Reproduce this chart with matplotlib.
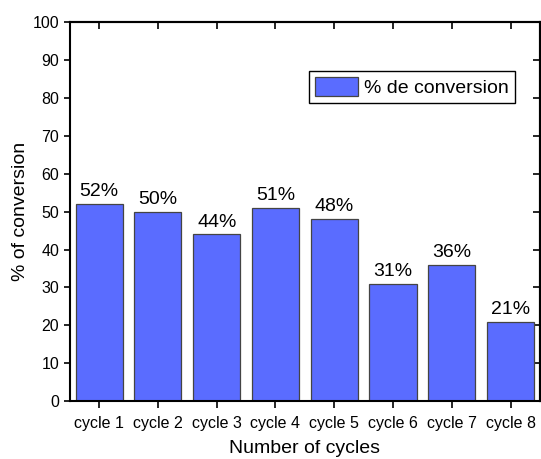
import matplotlib
matplotlib.use("Agg")
import matplotlib.pyplot as plt
import numpy as np

plt.rcParams['font.family'] = ['Liberation Sans', 'DejaVu Sans']

cycles = ['cycle 1', 'cycle 2', 'cycle 3', 'cycle 4',
          'cycle 5', 'cycle 6', 'cycle 7', 'cycle 8']
conversion = [52, 50, 44, 51, 48, 31, 36, 21]

fig = plt.figure(figsize=(5.41, 4.59), dpi=100)
ax = fig.add_axes([0.129, 0.126, 0.869, 0.826])

x = np.arange(len(cycles))
ax.bar(x, conversion, width=0.8, color='#5a6cff', edgecolor='#444444',
       linewidth=0.9, label='% de conversion')
for xi, v in zip(x, conversion):
    ax.text(xi, v + 1.0, f'{v}%', ha='center', va='bottom', fontsize=14)

ax.set_xlim(-0.5, 7.5)
ax.set_ylim(0, 100)
ax.set_yticks(range(0, 101, 10))
ax.set_xticks(x)
ax.set_xticklabels(cycles, fontsize=11.5)
ax.tick_params(axis='y', labelsize=11.5, direction='out', length=4, width=1.2)
ax.tick_params(axis='x', direction='out', length=5, width=1.2, pad=6)

# mirrored ticks on top/right point inward
sec_x = ax.secondary_xaxis('top')
sec_x.set_xticks(x)
sec_x.tick_params(direction='in', length=5, width=1.2, labeltop=False)
sec_y = ax.secondary_yaxis('right')
sec_y.set_yticks(range(0, 101, 10))
sec_y.tick_params(direction='in', length=5, width=1.2, labelright=False)
for a in (ax, sec_x, sec_y):
    for sp in a.spines.values():
        sp.set_linewidth(1.5)

ax.set_xlabel('Number of cycles', fontsize=14, labelpad=6)
ax.set_ylabel('% of conversion', fontsize=14, labelpad=3)

ax.legend(loc='upper right', bbox_to_anchor=(0.947, 0.872), fontsize=14,
          frameon=True, fancybox=False, edgecolor='black', framealpha=1,
          handlelength=2.2, handleheight=1.15, borderpad=0.32,
          handletextpad=0.3, borderaxespad=0)

fig.savefig('out.png', dpi=100)
